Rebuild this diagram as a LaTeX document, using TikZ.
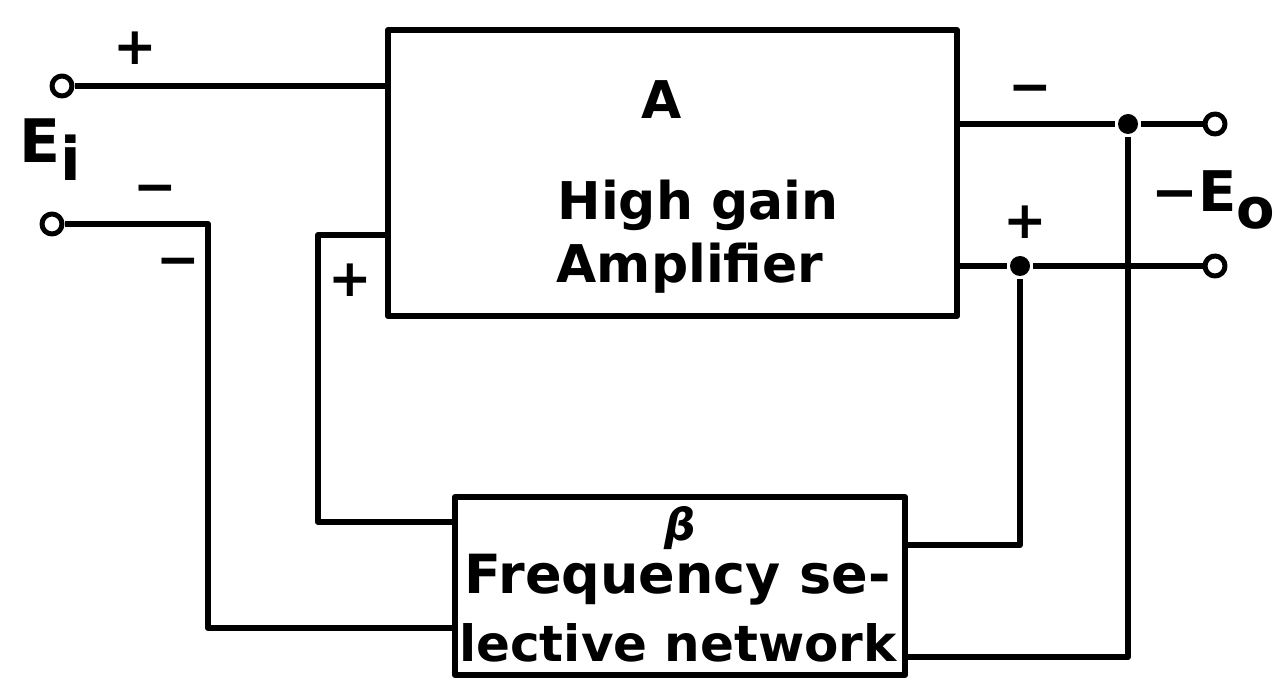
\documentclass[tikz,border=0pt]{standalone}
\usepackage{fontspec}
\setmainfont{DejaVu Sans}
\tikzset{
  blk/.style={draw,inner sep=0pt},
  txt/.style={font=\bfseries\fontsize{26}{30}\selectfont},
  sign/.style={font=\bfseries\fontsize{26}{30}\selectfont,inner sep=0pt},
  volt/.style={font=\bfseries\fontsize{30}{34}\selectfont,inner sep=0pt},
  term/.style={circle,draw,fill=white,line width=2.5pt,inner sep=0pt,minimum size=10pt},
  dot/.style={circle,fill,inner sep=0pt,minimum size=10pt}
}
\begin{document}
\begin{tikzpicture}[x=0.5pt,y=-0.5pt,line width=3pt,line join=round]
  \useasboundingbox (0,0) rectangle (1280,689);
  \node[blk,minimum width=284.5pt,minimum height=143pt] (amp) at (672.5,173) {};
  \node[txt] (ampA) at (662,100) {A};
  \node[txt] (ampT1) at (698,205) {High gain};
  \node[txt] (ampT2) at (690,268) {Amplifier};
  \node[blk,minimum width=225pt,minimum height=89pt] (beta) at (680,586) {};
  \node[txt,inner sep=0pt,font=\bfseries\itshape\fontsize{22}{26}\selectfont] (betaB) at (680,528) {β};
  \node[txt,inner sep=0pt,font=\bfseries\fontsize{27}{30}\selectfont] (betaT1) at (678,580) {Frequency se-};
  \node[txt,inner sep=0pt,font=\bfseries\fontsize{25}{30}\selectfont] (betaT2) at (678,643) {lective network};
  \node[term] (ip) at (62,86) {};
  \node[term] (im) at (52,224) {};
  \node[term] (om) at (1215,124) {};
  \node[term] (op) at (1215,266) {};
  \node[dot] (jm) at (1128,124) {};
  \node[dot] (jp) at (1020,266) {};
  \coordinate (lowL) at (208,628);
  \coordinate (fbT) at (318,235);
  \coordinate (fbB) at (318,522);
  \coordinate (fbR) at (1020,545);
  \coordinate (lowR) at (1128,657);
  \draw (ip) -- (amp.west |- ip);
  \draw (im) -| (lowL) -- (beta.west |- lowL);
  \draw (amp.west |- fbT) -- (fbT) -- (fbB) -- (beta.west |- fbB);
  \draw (amp.east |- jm) -- (jm) -- (om);
  \draw (jm) -- (lowR) -- (beta.east |- lowR);
  \draw (amp.east |- jp) -- (jp) -- (op);
  \draw (jp) -- (fbR) -- (beta.east |- fbR);
  \node[sign] (pIn) at (135,48) {+};
  \node[volt] (ein) at (50,150) {E\raisebox{-0.3em}{i}};
  \node[sign] (mIn) at (155,195) {−};
  \node[sign] (mIn2) at (178,268) {−};
  \node[sign] (pFb) at (350,280) {+};
  \node[sign] (mOut) at (1030,95) {−};
  \node[sign] (pOut) at (1025,222) {+};
  \node[volt,font=\bfseries\fontsize{28}{32}\selectfont,anchor=east] (eout) at (1278,200) {−E\raisebox{-0.3em}{o}};
\end{tikzpicture}
\end{document}
